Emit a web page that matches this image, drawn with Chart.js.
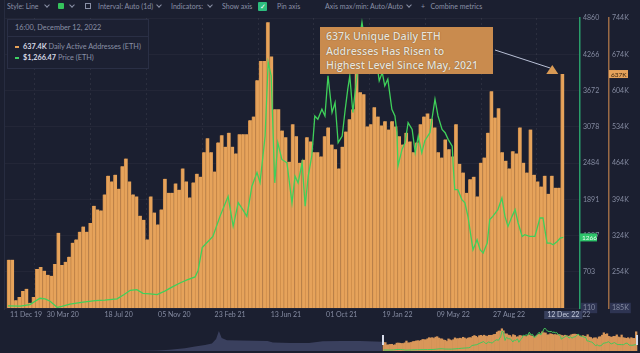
<!DOCTYPE html>
<html>
<head>
<meta charset="utf-8">
<script src="https://cdn.jsdelivr.net/npm/chart.js@4/dist/chart.umd.min.js"></script>
<style>
  html, body { margin:0; padding:0; background:#1b1f30; width:640px; height:353px; overflow:hidden; font-family: Lato, "Open Sans", sans-serif; }
  canvas { position:absolute; left:0; }
  #main { top:0; }
  #nav { top:322px; }
  .tb { position:absolute; top:1px; font-size:7px; color:#8a90a6; white-space:nowrap; line-height:10px; }
  .chev { position:absolute; top:3px; width:3px; height:3px; border-right:1px solid #8a90a6; border-bottom:1px solid #8a90a6; transform:rotate(45deg); }
  .leftline { position:absolute; left:4px; top:0; width:1px; height:310px; background:#272c40; }
  #legend { position:absolute; left:7px; top:19px; width:140px; height:48px; border:1px solid #2a2f45; background:#1c2032; font-size:7.3px; color:#8a90a6; }
  #legend .hd { position:absolute; left:7px; top:3px; }
  #legend .sep { position:absolute; left:0; right:0; top:16px; height:1px; background:#2a2f45; }
  #legend .row { position:absolute; left:7px; white-space:nowrap; }
  #legend b { color:#d6d9e4; font-weight:700; }
  #legend i { display:inline-block; width:4px; height:2px; vertical-align:middle; margin-right:4px; }
  #note { position:absolute; left:320px; top:27px; width:173px; height:47px; background:#c98b4e; color:#ebe2d7;
          font: 600 10.6px "Open Sans", sans-serif; line-height:14.5px; padding:2px 0 0 6px; box-sizing:border-box;
          text-shadow: 0 0 1px rgba(90,60,30,0.9); }
</style>
</head>
<body>
<div class="leftline"></div>
<div class="tb" style="left:7px">Style: Line</div><div class="chev" style="left:45px"></div>
<div class="tb" style="left:58px;top:3px;width:6px;height:6px;background:#35c35c;border-radius:1px"></div><div class="chev" style="left:70px"></div>
<div class="tb" style="left:85px;top:3px;width:6px;height:6px;border:1px solid #8a90a6;box-sizing:border-box"></div>
<div class="tb" style="left:98px">Interval: Auto (1d)</div><div class="chev" style="left:157px"></div>
<div class="tb" style="left:171px">Indicators:</div><div class="chev" style="left:208px"></div>
<div class="tb" style="left:222px">Show axis</div>
<div class="tb" style="left:258px;top:2px;width:9px;height:9px;background:#2dbd7e;border-radius:1px;color:#fff;font-size:7px;text-align:center;line-height:9px">&#10003;</div>
<div class="tb" style="left:277px">Pin axis</div>
<div class="tb" style="left:325px">Axis max/min: Auto/Auto</div><div class="chev" style="left:407px"></div>
<div class="tb" style="left:421px">+&nbsp;&nbsp;&nbsp;Combine metrics</div>

<canvas id="main" width="640" height="322"></canvas>
<canvas id="nav" width="640" height="31"></canvas>

<div id="legend">
  <div class="hd">16:00, December 12, 2022</div>
  <div class="sep"></div>
  <div class="row" style="top:22px"><i style="background:#e5a158"></i><b>637.4K</b> Daily Active Addresses (ETH)</div>
  <div class="row" style="top:33px"><i style="background:#3fcf63"></i><b>$1,266.47</b> Price (ETH)</div>
</div>
<div id="note">637k Unique Daily ETH<br>Addresses Has Risen to<br>Highest Level Since May, 2021</div>

<script>
// weekly daily-active-addresses (thousands), weeks starting 11 Dec 2019
const activeAddressesK = [
  278,278,200,206,218,222,195,206,260,264,257,249,247,270,330,268,274,284,311,317,
  332,342,332,349,382,375,373,404,440,429,442,415,458,473,429,404,400,363,355,317,
  400,369,346,375,434,407,407,425,413,454,429,398,427,444,438,485,512,485,448,504,
  518,496,523,496,483,520,520,520,547,554,624,661,661,736,670,568,568,527,514,467,
  539,516,465,471,514,506,485,485,477,516,533,500,491,454,496,525,549,568,636,601,
  597,535,539,572,554,537,545,529,545,535,516,500,523,506,485,504,539,554,560,
  550,533,485,475,510,491,477,539,463,446,407,433,438,400,465,475,523,603,552,570,
  485,469,454,487,483,533,465,446,529,442,429,419,440,405,440,417,417,636
];
// ETH price (USD), days since 11 Dec 2019
const priceDays = [
  2,26,45,65,75,85,99,108,124,150,174,193,217,231,243,256,268,282,296,312,
  327,341,355,371,377,385,394,406,420,436,446,456,465,473,483,493,499,509,515,521,
  528,534,542,552,562,568,574,582,588,594,601,607,613,621,627,633,641,647,653,661,
  667,672,676,682,690,696,700,706,712,722,730,734,740,745,751,759,765,769,771,779,
  785,791,799,805,811,818,824,834,844,850,858,864,870,878,880,883,889,897,903,909,
  917,919,927,933,939,947,952,958,968,976,982,988,996,1002,1008,1016,1021,1031,1041,1051,
  1057,1065,1071,1077,1085,1091,1097
];
const priceUsd = [
  145,140,165,270,260,220,120,135,175,205,230,240,260,330,400,410,350,340,330,390,
  460,520,570,620,730,1100,1178,1282,1611,1940,1447,1836,1721,1611,2104,2329,2165,2926,4133,3913,
  2160,2818,2543,2489,1831,2269,2160,2489,1776,2269,2598,3255,3201,3365,3255,3913,3311,3475,2818,2926,
  3365,3694,3913,3311,3913,4570,4790,4461,4133,4023,4078,3830,3968,3748,3858,3365,3255,2981,2433,2707,
  2818,3146,3036,2653,2926,2650,2850,2981,3530,3255,3036,2981,2872,2762,2433,2050,2050,1886,1831,1611,
  1174,1064,1228,1064,1009,1174,1557,1611,1721,1913,1611,1447,1611,1721,1502,1282,1310,1282,1282,1584,
  1584,1174,1174,1146,1200,1256,1266
];
// x axis ticks (days since 11 Dec 2019)
const xTickDays = [0,110,220,330,440,550,660,770,880,990];
const xTickLabels = ['11 Dec 19','30 Mar 20','18 Jul 20','05 Nov 20','23 Feb 21','13 Jun 21','01 Oct 21','19 Jan 22','09 May 22','27 Aug 22'];
const lastDay = 1097;
const lastDayLabel = '12 Dec 22';
// right axes
const daaTickLabels = ['185K','254K','324K','394K','464K','534K','604K','674K','744K'];
const priceTickLabels = ['110','703','1297','1891','2484','3078','3672','4266','4860'];
const daaMin = 185, daaMax = 744;
const priceMin = 110, priceMax = 4860;
const lastDaaLabel = '637K';
const lastPriceLabel = '1266';
// navigator history before the selected range (days, thousands)
const navHistDays = [-1657,-1100,-978,-922,-857,-813,-770,-740,-722,-710,-698,-675,-620,-560,-500,-476,-400,-320,-260,-180,-100,-4];
const navHistK = [0,3,15,40,90,150,200,250,400,660,430,360,350,340,330,280,265,265,320,335,330,310];

const ORANGE = '#e6a35b';
const GREEN = '#3fd05a';
const GREY = '#858ba1';

const barData = activeAddressesK.map((v, i) => ({ x: i * 7 + 3.5, y: v }));
const priceData = priceDays.map((d, i) => ({ x: d, y: priceUsd[i] }));

const evenTicks = (min, max, n) => Array.from({ length: n }, (_, k) => ({ value: min + k * (max - min) / (n - 1) }));

const overlay = {
  id: 'overlay',
  afterDraw(chart) {
    const c = chart.ctx, xs = chart.scales.x, ya = chart.scales.y, yp = chart.scales.y1;
    const area = chart.chartArea;
    c.save();
    // x labels
    c.font = '7px Lato, sans-serif';
    c.fillStyle = GREY;
    c.textBaseline = 'middle';
    xTickDays.forEach((d, i) => {
      const px = xs.getPixelForValue(d);
      if (i === 0) { c.textAlign = 'left'; c.fillText(xTickLabels[i], area.left + 5, 315); }
      else { c.textAlign = 'center'; c.fillText(xTickLabels[i], px, 315); }
    });
    // last date badge
    const lx = xs.getPixelForValue(lastDay);
    c.textAlign = 'left';
    c.fillText('22', lx + 19, 315);
    const bw = c.measureText(lastDayLabel).width + 6;
    c.fillStyle = '#38405e';
    c.fillRect(lx - bw / 2, 311, bw, 8);
    c.fillStyle = '#c3c8da';
    c.textAlign = 'center';
    c.fillText(lastDayLabel, lx, 315);
    // value badges on axes
    c.font = '6.5px Lato, sans-serif';
    const yb = ya.getPixelForValue(activeAddressesK[activeAddressesK.length - 1]);
    c.fillStyle = ORANGE;
    c.fillRect(ya.left, yb - 4, 19, 8);
    c.fillStyle = '#3b2610';
    c.textAlign = 'left';
    c.fillText(lastDaaLabel, ya.left + 2, yb + 0.5);
    const yg = yp.getPixelForValue(priceUsd[priceUsd.length - 1]);
    c.fillStyle = '#2ec46a';
    c.fillRect(yp.left, yg - 4, 17, 8);
    c.fillStyle = '#eafff0';
    c.fillText(lastPriceLabel, yp.left + 2, yg + 0.5);
    // arrow from note to latest bar
    const tipX = xs.getPixelForValue(lastDay) - 11, tipY = yb - 9;
    c.strokeStyle = '#b9c0d6';
    c.lineWidth = 1;
    c.beginPath(); c.moveTo(495, 50); c.lineTo(tipX - 2, tipY + 3); c.stroke();
    c.fillStyle = '#d99a55';
    c.beginPath(); c.moveTo(tipX, tipY); c.lineTo(tipX + 6, tipY + 9); c.lineTo(tipX - 6, tipY + 9); c.closePath(); c.fill();
    c.restore();
  }
};

new Chart(document.getElementById('main'), {
  type: 'bar',
  data: {
    datasets: [
      { type: 'line', label: 'Price (ETH)', data: priceData, yAxisID: 'y1', borderColor: GREEN, borderWidth: 1.3,
        pointRadius: 0, tension: 0, order: 0 },
      { type: 'bar', label: 'Daily Active Addresses (ETH)', data: barData, yAxisID: 'y', backgroundColor: ORANGE,
        borderColor: '#cf8d4b', borderWidth: { left: 1, right: 0, top: 0, bottom: 0 }, borderSkipped: false,
        inflateAmount: 0.4, barPercentage: 1, categoryPercentage: 1, order: 1 }
    ]
  },
  options: {
    responsive: false, animation: false, devicePixelRatio: 1,
    layout: { padding: { left: 5, top: 18, bottom: 14, right: 0 } },
    plugins: { legend: { display: false }, tooltip: { enabled: false } },
    scales: {
      x: {
        type: 'linear', min: -4, max: 1130, offset: false,
        afterBuildTicks: s => { s.ticks = xTickDays.slice(1).map(v => ({ value: v })); },
        ticks: { display: false },
        grid: { color: 'rgba(255,255,255,0.07)', drawTicks: false },
        border: { display: false, dash: [2, 3] }
      },
      y1: {
        position: 'right', weight: 0, min: priceMin, max: priceMax,
        afterBuildTicks: s => { s.ticks = evenTicks(priceMin, priceMax, priceTickLabels.length); },
        afterFit: s => { s.width = 29; },
        ticks: { callback: (v, i) => priceTickLabels[i], color: GREY, font: { size: 7, family: 'Lato' }, padding: 3,
                 showLabelBackdrop: true, backdropPadding: { top: 1, bottom: 1, left: 2, right: 2 },
                 backdropColor: ctx => ctx.index === 0 ? '#2e3452' : 'rgba(0,0,0,0)' },
        grid: { drawOnChartArea: false, drawTicks: false },
        border: { color: '#2a9d6a', width: 1.5 }
      },
      y: {
        position: 'right', weight: 1, min: daaMin, max: daaMax,
        afterBuildTicks: s => { s.ticks = evenTicks(daaMin, daaMax, daaTickLabels.length); },
        afterFit: s => { s.width = 31; },
        ticks: { callback: (v, i) => daaTickLabels[i], color: GREY, font: { size: 7, family: 'Lato' }, padding: 3,
                 showLabelBackdrop: true, backdropPadding: { top: 1, bottom: 1, left: 2, right: 2 },
                 backdropColor: ctx => ctx.index === 0 ? '#2e3452' : 'rgba(0,0,0,0)' },
        grid: { color: 'rgba(255,255,255,0.035)', drawTicks: false },
        border: { color: '#9a6a45', width: 1.5 }
      }
    }
  },
  plugins: [overlay]
});

// navigator strip
const navHandles = {
  id: 'navHandles',
  afterDraw(chart) {
    const c = chart.ctx, xs = chart.scales.x;
    c.save();
    c.fillStyle = '#d8dcea';
    [0, activeAddressesK.length * 7].forEach(d => {
      c.fillRect(Math.round(xs.getPixelForValue(d)) - 1, 13, 2, 10);
    });
    c.restore();
  }
};

new Chart(document.getElementById('nav'), {
  type: 'bar',
  data: {
    datasets: [
      { type: 'line', data: priceData, yAxisID: 'y2', borderColor: '#45c85a', borderWidth: 1, pointRadius: 0, order: 0 },
      { type: 'bar', data: barData, yAxisID: 'y', backgroundColor: '#d9975a', barPercentage: 1, categoryPercentage: 1, order: 1 },
      { type: 'line', data: navHistDays.map((d, i) => ({ x: d, y: navHistK[i] })), yAxisID: 'y',
        borderWidth: 0, backgroundColor: 'rgba(98,104,150,0.45)', fill: 'origin', pointRadius: 0, order: 2 }
    ]
  },
  options: {
    responsive: false, animation: false, devicePixelRatio: 1,
    layout: { padding: { left: 0, right: 0, top: 0, bottom: 2 } },
    plugins: { legend: { display: false }, tooltip: { enabled: false } },
    scales: {
      x: { type: 'linear', min: -1657, max: 1112, offset: false, display: false },
      y: { min: 0, max: 960, display: false },
      y2: { min: -60, max: 6060, display: false }
    }
  },
  plugins: [navHandles]
});
</script>
</body>
</html>
